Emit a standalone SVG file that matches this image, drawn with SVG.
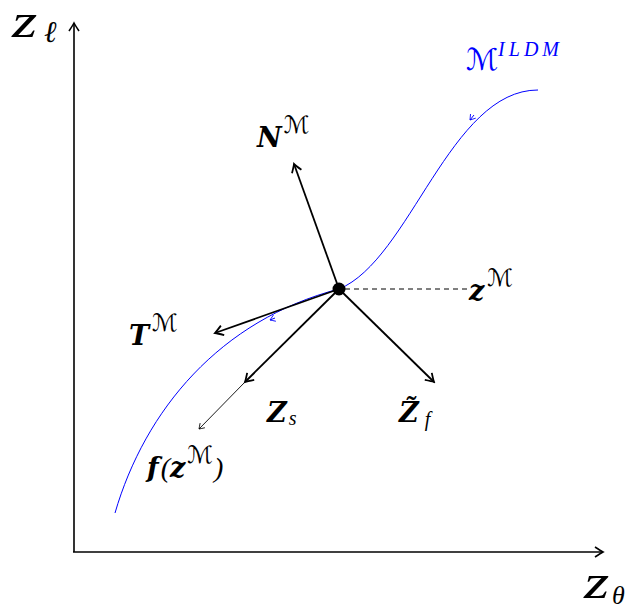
<svg xmlns="http://www.w3.org/2000/svg" width="628" height="611" viewBox="0 0 628 611">
<style>
.ax{stroke:#000;stroke-width:1.6;fill:none}
.vec{stroke:#000;stroke-width:1.8;fill:none}
.thin{stroke:#000;stroke-width:0.9;fill:none}
.crv{stroke:#0000ff;stroke-width:1;fill:none}
.lbl{font-family:"DejaVu Serif","Liberation Serif",serif;font-style:italic;font-weight:bold;font-size:27px;fill:#000}
.axl{font-family:"Liberation Serif","DejaVu Serif",serif;font-style:italic;font-size:48px;fill:#000}
.sub{font-family:"Liberation Serif","DejaVu Serif",serif;font-style:italic;font-weight:normal}
.cal{font-family:"DejaVu Serif","DejaVu Sans",serif;font-style:italic;font-weight:normal}
</style>
<defs>
<marker id="ah" viewBox="-10 -6 12 12" markerWidth="12" markerHeight="12" refX="0" refY="0" orient="auto" markerUnits="userSpaceOnUse">
<path d="M-8,-5 Q-2,-1 0,0 Q-2,1 -8,5" stroke="#000" stroke-width="1.6" fill="none"/>
</marker>
<marker id="ahb" viewBox="-10 -6 12 12" markerWidth="12" markerHeight="12" refX="0" refY="0" orient="auto" markerUnits="userSpaceOnUse">
<path d="M-8,-5 Q-2,-1 0,0 Q-2,1 -8,5" stroke="#000" stroke-width="1.8" fill="none"/>
</marker>
<marker id="aht" viewBox="-10 -6 12 12" markerWidth="10" markerHeight="10" refX="0" refY="0" orient="auto" markerUnits="userSpaceOnUse">
<path d="M-6,-4 Q-1.5,-1 0,0 Q-1.5,1 -6,4" stroke="#000" stroke-width="1" fill="none"/>
</marker>
<marker id="ahc" viewBox="-10 -6 12 12" markerWidth="10" markerHeight="10" refX="0" refY="0" orient="auto" markerUnits="userSpaceOnUse">
<path d="M-6,-4 Q-1.5,-1 0,0 Q-1.5,1 -6,4" stroke="#0000ff" stroke-width="1" fill="none"/>
</marker>
</defs>
<g id="axes">
<line class="ax" x1="74" y1="552" x2="74" y2="23" marker-end="url(#ah)"/>
<line class="ax" x1="73" y1="552" x2="603" y2="552" marker-end="url(#ah)"/>
<text class="axl" transform="translate(12,37) scale(1.35,1)">z</text>
<text class="sub" x="44" y="42" font-size="30">ℓ</text>
<text class="axl" transform="translate(584,598) scale(1.35,1)">z</text>
<text class="sub" x="612" y="604" font-size="26">θ</text>
</g>
<g id="manifold">
<path class="crv" d="M115,513 C145,410 220,320 339,289 C410,260 450,90 538,90"/>
<path class="crv" d="M275,318 L270,320" marker-end="url(#ahc)"/>
<path class="crv" d="M474,115 L470,120" marker-end="url(#ahc)"/>
<text x="466" y="70" fill="#0000ff"><tspan class="cal" font-size="30">ℳ</tspan><tspan class="sub" font-size="20" dy="-14" letter-spacing="4">ILDM</tspan></text>
</g>
<g id="connectors">
<line class="vec" x1="339" y1="289" x2="294" y2="164" marker-end="url(#ahb)"/>
<line class="vec" x1="339" y1="289" x2="215" y2="333" marker-end="url(#ahb)"/>
<line class="vec" x1="339" y1="289" x2="245" y2="382" marker-end="url(#ahb)"/>
<line class="vec" x1="339" y1="289" x2="434" y2="382" marker-end="url(#ahb)"/>
<line class="thin" x1="245" y1="382" x2="199" y2="429" marker-end="url(#aht)"/>
<line x1="345" y1="289" x2="470" y2="289" stroke="#000" stroke-width="1" stroke-dasharray="5,4"/>
</g>
<g id="point">
<circle cx="339" cy="289" r="6.5" fill="#000"/>
</g>
<g id="N">
<text class="lbl" x="257" y="147">N<tspan class="cal" font-size="24" dx="2" dy="-14">ℳ</tspan></text>
</g>
<g id="T">
<text class="lbl" x="129" y="345">T<tspan class="cal" font-size="24" dx="3" dy="-14">ℳ</tspan></text>
</g>
<g id="zM">
<text class="lbl" x="469" y="300">z<tspan class="cal" font-size="24" dx="3" dy="-14">ℳ</tspan></text>
</g>
<g id="Zs">
<text class="lbl" x="267" y="422">Z<tspan class="sub" font-size="20" dx="2" dy="3">s</tspan></text>
</g>
<g id="Zf">
<text class="lbl" x="399" y="422">Z̃<tspan class="sub" font-size="20" dx="6" dy="4">f</tspan></text>
</g>
<g id="f">
<text class="lbl" x="147" y="477">f<tspan class="sub" font-size="28" dx="2">(</tspan>z<tspan class="cal" font-size="24" dx="2" dy="-14">ℳ</tspan><tspan class="sub" font-size="28" dx="1" dy="14">)</tspan></text>
</g>
</svg>
